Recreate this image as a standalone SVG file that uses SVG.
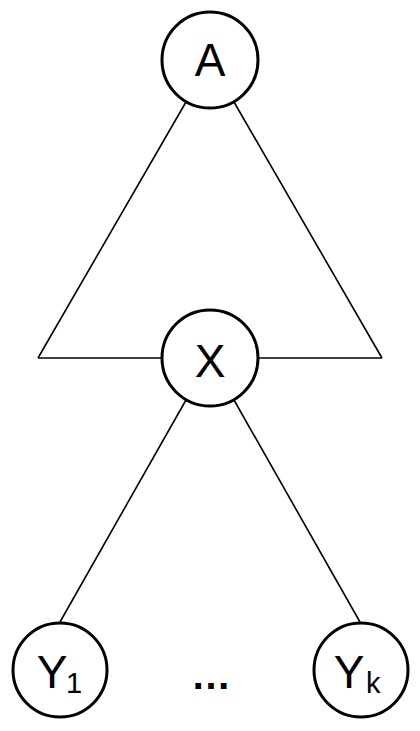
<svg xmlns="http://www.w3.org/2000/svg" width="420" height="731" viewBox="0 0 420 731">
<style>
.n{fill:#fff;stroke:#000;stroke-width:3}
.e{stroke:#000;stroke-width:1.6;fill:none}
.t{font-family:"Liberation Sans",Arial,sans-serif;font-size:46px;fill:#000;text-anchor:middle}
.s{font-family:"Liberation Sans",Arial,sans-serif;font-size:29px;fill:#000}
</style>
<rect width="420" height="731" fill="#fff"/>
<g id="connectors">
<line class="e" x1="186" y1="102" x2="38" y2="358"/>
<line class="e" x1="234" y1="102" x2="382" y2="358"/>
<line class="e" x1="38" y1="358" x2="162" y2="358"/>
<line class="e" x1="258" y1="358" x2="382" y2="358"/>
<line class="e" x1="186" y1="400" x2="60" y2="622"/>
<line class="e" x1="234" y1="400" x2="360" y2="622"/>
</g>
<g id="A"><circle class="n" cx="210" cy="60" r="48"/><text class="t" x="210" y="76">A</text></g>
<g id="X"><circle class="n" cx="210" cy="358" r="48"/><text class="t" x="210" y="377">X</text></g>
<g id="Y1"><circle class="n" cx="60" cy="670" r="47"/><text class="t" x="52" y="688">Y</text><text class="s" x="66" y="693">1</text></g>
<g id="Yk"><circle class="n" cx="361" cy="670" r="47"/><text class="t" x="349" y="688">Y</text><text class="s" x="366" y="693">k</text></g>
<g id="dots"><text class="t" x="211" y="689" style="font-size:40px;font-weight:bold">…</text></g>
</svg>
